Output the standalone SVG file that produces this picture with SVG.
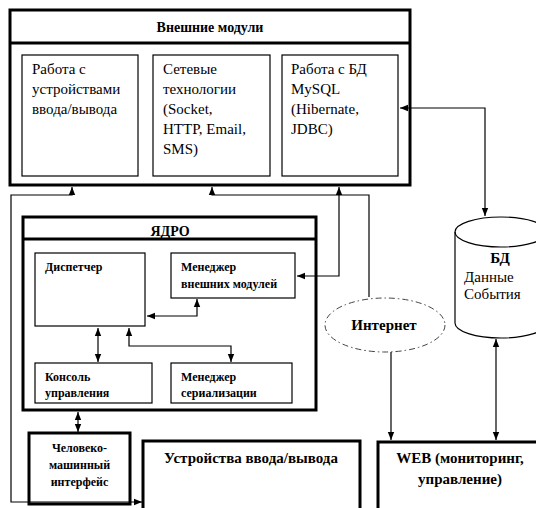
<svg xmlns="http://www.w3.org/2000/svg" width="536" height="508" viewBox="0 0 536 508">
<defs>
<marker id="ah" viewBox="0 0 8 8" refX="8" refY="4" markerWidth="8" markerHeight="8" markerUnits="userSpaceOnUse" orient="auto-start-reverse">
<path d="M0,0.8 L8,4 L0,7.2 Z" fill="#000"/>
</marker>
<style>
.thick{fill:#fff;stroke:#000;stroke-width:3}
.frame{fill:none;stroke:#000;stroke-width:3}
.thin{fill:#fff;stroke:#000;stroke-width:1.2}
.r{font-family:'Liberation Serif',serif;font-size:15px;fill:#000}
.b{font-family:'Times New Roman','Liberation Serif',serif;font-weight:bold;fill:#000}
.c{fill:none;stroke:#000;stroke-width:1.2}
.ar{marker-end:url(#ah)}
.ab{marker-start:url(#ah);marker-end:url(#ah)}
</style>
</defs>
<rect width="536" height="508" fill="#fff"/>

<g id="io-mod">
<rect class="thin" x="22" y="55" width="116" height="121"/>
<text class="r" x="32" y="74">Работа с</text>
<text class="r" x="32" y="94">устройствами</text>
<text class="r" x="32" y="114">ввода/вывода</text>
</g>
<g id="net-mod">
<rect class="thin" x="153" y="55" width="117" height="121"/>
<text class="r" x="163" y="74">Сетевые</text>
<text class="r" x="163" y="94">технологии</text>
<text class="r" x="163" y="114">(Socket,</text>
<text class="r" x="163" y="134">HTTP, Email,</text>
<text class="r" x="163" y="154">SMS)</text>
</g>
<g id="db-mod">
<rect class="thin" x="282" y="55" width="116" height="121"/>
<text class="r" x="291" y="74">Работа с БД</text>
<text class="r" x="291" y="94">MySQL</text>
<text class="r" x="291" y="114">(Hibernate,</text>
<text class="r" x="291" y="134">JDBC)</text>
</g>
<g id="db">
<path d="M455,232 A46,15 0 0 1 547,232 V323 A46,15 0 0 1 455,323 Z" fill="#fff" stroke="#000" stroke-width="1.2"/>
<path d="M455,232 A46,15 0 0 0 547,232" fill="none" stroke="#000" stroke-width="1.2"/>
<text class="r" x="464" y="282">Данные</text>
<text class="r" x="464" y="299">События</text>
<text class="b" x="500" y="263" font-size="15" text-anchor="middle">БД</text>
</g>

<g id="ext">
<rect class="frame" x="10" y="10" width="400" height="175"/>
<line x1="10" y1="43" x2="410" y2="43" stroke="#000" stroke-width="3"/>
<text class="b" x="210" y="32" font-size="14" text-anchor="middle">Внешние модули</text>
</g>

<g id="core">
<rect class="frame" x="23" y="217" width="293" height="193"/>
<line x1="23" y1="239" x2="316" y2="239" stroke="#000" stroke-width="3"/>
<text class="b" x="170" y="236" font-size="14" text-anchor="middle">ЯДРО</text>
</g>
<g id="dispatcher">
<rect class="thin" x="35" y="253" width="110" height="73"/>
<text class="b" x="45" y="271" font-size="12">Диспетчер</text>
</g>
<g id="ext-manager">
<rect class="thin" x="171" y="253" width="124" height="45"/>
<text class="b" font-size="12"><tspan x="181" y="271">Менеджер</tspan><tspan x="181" y="288">внешних модулей</tspan></text>
</g>
<g id="console">
<rect class="thin" x="35" y="363" width="117" height="40"/>
<text class="b" font-size="12"><tspan x="45" y="381">Консоль</tspan><tspan x="45" y="397">управления</tspan></text>
</g>
<g id="serial-manager">
<rect class="thin" x="171" y="363" width="121" height="40"/>
<text class="b" font-size="12"><tspan x="181" y="381">Менеджер</tspan><tspan x="181" y="397">сериализации</tspan></text>
</g>

<g id="hmi">
<rect class="thick" x="29" y="433" width="101" height="71"/>
<text class="b" font-size="12" text-anchor="middle"><tspan x="79.5" y="452">Человеко-</tspan><tspan x="79.5" y="469">машинный</tspan><tspan x="79.5" y="486">интерфейс</tspan></text>
</g>
<g id="devices">
<rect class="thick" x="143" y="441" width="217" height="80"/>
<text class="b" x="251" y="463" font-size="15" text-anchor="middle">Устройства ввода/вывода</text>
</g>
<g id="web">
<rect class="thick" x="378" y="442" width="170" height="80"/>
<text class="b" font-size="15" text-anchor="middle"><tspan x="460" y="463">WEB (мониторинг,</tspan><tspan x="460" y="484">управление)</tspan></text>
</g>
<g id="internet">
<ellipse cx="385" cy="325" rx="60" ry="27" fill="#fff" stroke="#444" stroke-width="1" stroke-dasharray="6 3 1.5 3"/>
<text class="b" x="384" y="330" font-size="15" text-anchor="middle">Интернет</text>
</g>

<g id="connectors">
<path class="c ab" d="M142,502 H11 V195 H72 V187"/>
<path class="c ar" d="M369,297 V195 H212 V187"/>
<path class="c ab" d="M297,276 H339 V187"/>
<path class="c ab" d="M400,108 H485 V216"/>
<path class="c ab" d="M147,316 H197 V299"/>
<path class="c ab" d="M98,328 V362"/>
<path class="c ab" d="M129,328 V346 H231 V362"/>
<path class="c ab" d="M78,412 V432"/>
<path class="c ar" d="M391,352 V440"/>
<path class="c ab" d="M496,339 V440"/>
</g>
</svg>
